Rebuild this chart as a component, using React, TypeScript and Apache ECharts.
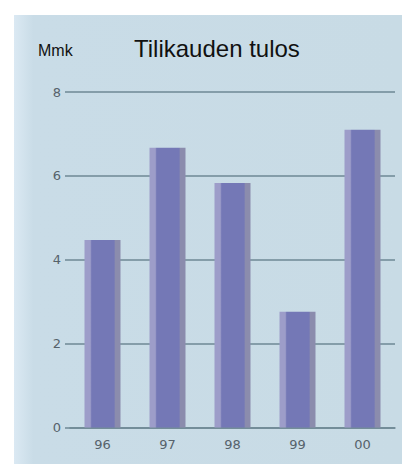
import React, { useEffect, useRef } from "react";
import * as echarts from "echarts";

const categories = ["96", "97", "98", "99", "00"];
const values = [4.47, 6.67, 5.83, 2.76, 7.1];
const yTicks = [0, 2, 4, 6, 8];

export default function App() {
  const ref = useRef<HTMLDivElement>(null);
  useEffect(() => {
    if (!ref.current) return;
    const chart = echarts.init(ref.current, undefined, { renderer: "svg" });
    const lineColor = "#6e8894";
    const labelFont = {
      color: "#56626b",
      fontSize: 13,
      fontFamily: "'DejaVu Sans', sans-serif",
    };
    chart.setOption({
      animation: false,
      backgroundColor: "#ffffff",
      graphic: [
        {
          type: "rect",
          z: -100,
          shape: { x: 14, y: 15, width: 388, height: 449 },
          style: {
            fill: new echarts.graphic.LinearGradient(0, 0, 1, 0, [
              { offset: 0, color: "#dbe9f3" },
              { offset: 0.05, color: "#c9dce7" },
              { offset: 1, color: "#c8dbe5" },
            ]),
          },
        },
        {
          type: "text",
          left: 134,
          top: 36,
          style: {
            text: "Tilikauden tulos",
            font: "24px 'Liberation Sans', Arial, sans-serif",
            fill: "#111111",
          },
        },
        {
          type: "text",
          left: 38,
          top: 42,
          style: {
            text: "Mmk",
            font: "16px 'Liberation Sans', Arial, sans-serif",
            fill: "#111111",
          },
        },
      ],
      grid: { left: 70, right: 13, top: 92, bottom: 44.5, containLabel: false },
      xAxis: {
        type: "category",
        data: categories,
        axisLine: { show: true, lineStyle: { color: lineColor, width: 1.5 } },
        axisTick: { show: false },
        axisLabel: { margin: 10, ...labelFont },
      },
      yAxis: {
        type: "value",
        min: yTicks[0],
        max: yTicks[yTicks.length - 1],
        interval: 2,
        axisLine: { show: false },
        axisTick: { show: true, length: 5, lineStyle: { color: lineColor, width: 1.5 } },
        splitLine: { show: true, lineStyle: { color: lineColor, width: 1.5 } },
        axisLabel: { margin: 9, ...labelFont },
      },
      series: [
        {
          type: "bar",
          data: values,
          barWidth: 36,
          itemStyle: {
            color: new echarts.graphic.LinearGradient(0, 0, 1, 0, [
              { offset: 0, color: "#9d9dc9" },
              { offset: 0.16, color: "#9d9dc9" },
              { offset: 0.2, color: "#7478b6" },
              { offset: 0.82, color: "#7478b6" },
              { offset: 0.86, color: "#8b8cad" },
              { offset: 1, color: "#8b8cad" },
            ]),
          },
        },
      ],
    });
    return () => chart.dispose();
  }, []);
  return (
    <div style={{ position: "absolute", left: 0, top: 0, width: 408, height: 472 }}>
      <div ref={ref} style={{ width: 408, height: 472 }} />
    </div>
  );
}
